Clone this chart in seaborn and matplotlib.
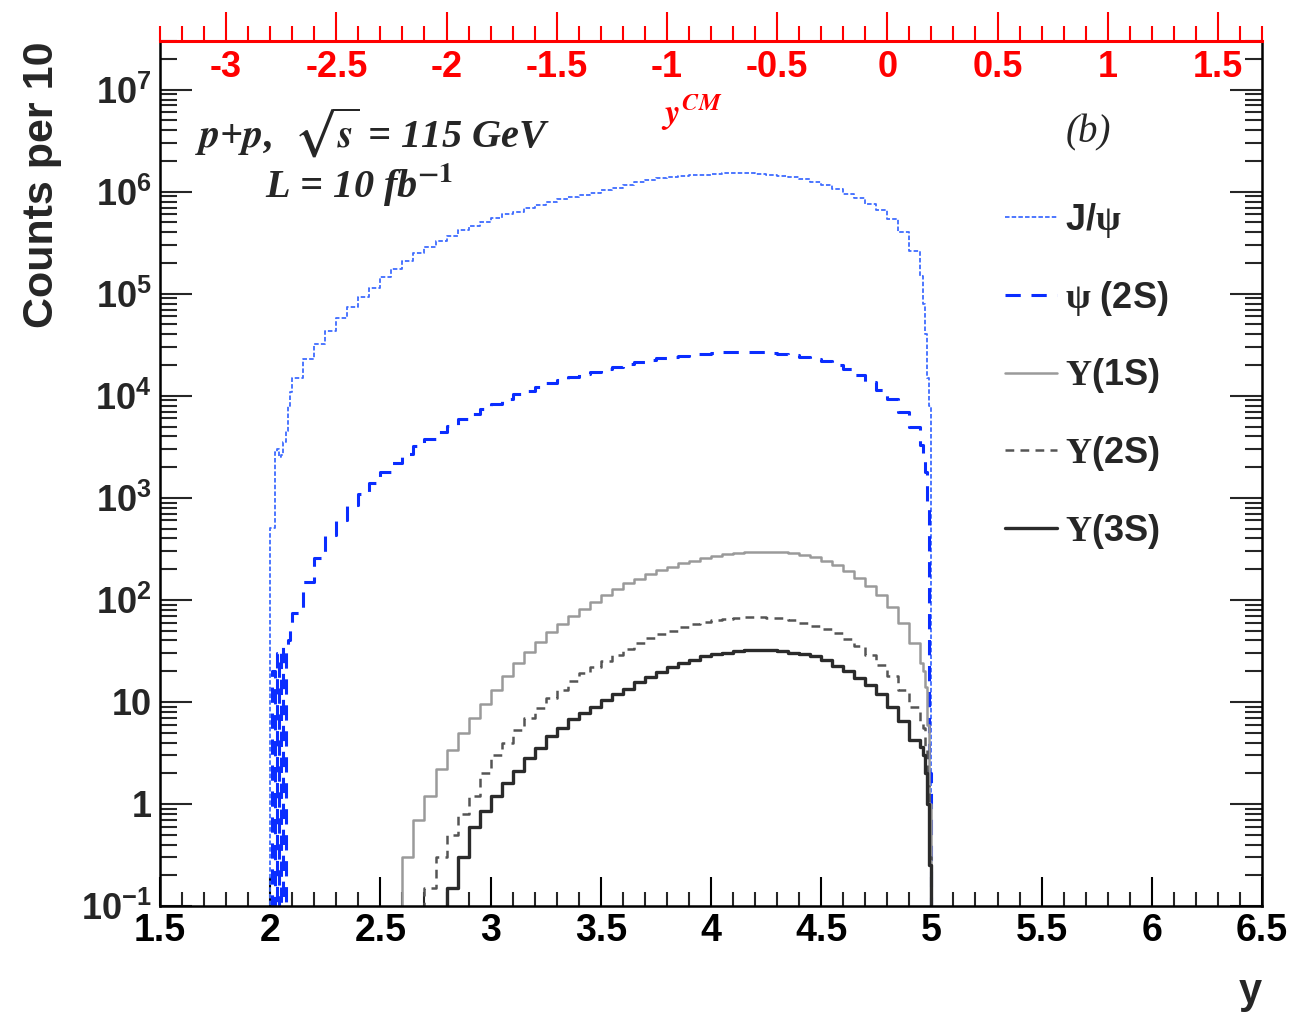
import numpy as np
import pandas as pd
import matplotlib
matplotlib.use("Agg")
import matplotlib.pyplot as plt
from matplotlib.lines import Line2D
from matplotlib.ticker import MultipleLocator, LogLocator, FuncFormatter, NullFormatter
import seaborn as sns

# bin edges in y (fine bins near the acceptance edges at y = 2 and y = 5)
edges = np.round(np.concatenate([
    [1.98, 2.00, 2.01, 2.02, 2.03, 2.04, 2.05, 2.06, 2.07, 2.08, 2.09, 2.10],
    np.arange(2.15, 4.951, 0.05),
    [4.96, 4.97, 4.98, 4.99, 5.00, 5.02],
]), 2)

# counts per bin (0.01 = empty, below the axis)
jpsi = [0.01,
        510, 510, 2800, 3000, 2500, 2600, 3500, 4500, 8000, 11000,
        1.5e4, 2.3e4, 3.2e4, 4.3e4, 5.8e4, 7.5e4, 9.3e4, 1.15e5, 1.45e5, 1.75e5,
        2.1e5, 2.5e5, 2.9e5, 3.3e5, 3.7e5, 4.2e5, 4.6e5, 5.0e5, 5.5e5, 6.0e5,
        6.4e5, 6.9e5, 7.4e5, 7.9e5, 8.4e5, 8.8e5, 9.3e5, 9.8e5, 1.04e6, 1.1e6,
        1.16e6, 1.24e6, 1.3e6, 1.35e6, 1.39e6, 1.42e6, 1.45e6, 1.47e6, 1.49e6, 1.51e6,
        1.53e6, 1.52e6, 1.5e6, 1.47e6, 1.43e6, 1.38e6, 1.32e6, 1.25e6, 1.17e6, 1.07e6,
        9.6e5, 8.6e5, 7.6e5, 6.6e5, 5.4e5, 4.0e5, 2.6e5,
        1.5e5, 8e4, 4e4, 1.5e4, 8e3,
        0.01]
psi2s = [0.01,
         0.01, 20, 0.05, 30, 0.05, 35, 0.08, 36, 40, 55,
         75, 150, 260, 430, 600, 850, 1100, 1400, 1800, 2200,
         2700, 3200, 3800, 4400, 5100, 5900, 6700, 7500, 8400, 9400,
         10300, 11200, 12200, 13300, 14300, 15300, 16300, 17300, 18300, 19300,
         20300, 21500, 22500, 23300, 24000, 24800, 25400, 25900, 26400, 26800,
         27000, 27000, 26800, 26300, 25700, 25000, 24100, 23000, 21700, 20100,
         18200, 16000, 13600, 11300, 9200, 7000, 4900,
         3300, 2600, 1800, 900, 2,
         0.01]
ups1s = [0.01,
         0.01, 0.01, 0.01, 0.01, 0.01, 0.01, 0.01, 0.01, 0.01, 0.01,
         0.01, 0.01, 0.01, 0.01, 0.01, 0.01, 0.01, 0.01, 0.01, 0.01,
         0.3, 0.7, 1.2, 2.2, 3.4, 5, 7, 9.5, 13, 18,
         24, 31, 39, 48, 58, 70, 82, 96, 112, 128,
         145, 160, 178, 195, 212, 228, 243, 258, 270, 280,
         288, 293, 296, 296, 293, 287, 278, 262, 243, 218,
         192, 165, 138, 112, 85, 60, 38,
         24, 20, 14, 6, 1,
         0.01]
ups2s = [0.01,
         0.01, 0.01, 0.01, 0.01, 0.01, 0.01, 0.01, 0.01, 0.01, 0.01,
         0.01, 0.01, 0.01, 0.01, 0.01, 0.01, 0.01, 0.01, 0.01, 0.01,
         0.01, 0.01, 0.15, 0.3, 0.5, 0.8, 1.2, 2.0, 3.0, 4.0,
         5.3, 7, 8.8, 11, 13, 16, 19, 22, 25, 29,
         33, 38, 42, 46, 50, 54, 58, 61, 63, 65,
         67, 68, 68, 67, 66, 63, 60, 56, 52, 47,
         41, 35, 29, 23, 18, 13, 9,
         6.5, 5.5, 3.5, 1.5, 0.3,
         0.01]
ups3s = [0.01,
         0.01, 0.01, 0.01, 0.01, 0.01, 0.01, 0.01, 0.01, 0.01, 0.01,
         0.01, 0.01, 0.01, 0.01, 0.01, 0.01, 0.01, 0.01, 0.01, 0.01,
         0.01, 0.01, 0.01, 0.01, 0.15, 0.3, 0.6, 0.85, 1.2, 1.6,
         2.1, 2.8, 3.5, 4.6, 5.5, 6.8, 7.8, 9, 10.5, 12,
         13.5, 15.5, 17.5, 19.5, 22, 24, 26, 28, 29.5, 30.5,
         31.5, 32, 32, 32, 31.5, 30.5, 29.5, 28, 26, 22.5,
         20, 17, 14.5, 12, 9, 6.5, 4.2,
         3.6, 3.0, 2.0, 1.0, 0.25,
         0.01]

states = ["J/psi", "psi(2S)", "Y(1S)", "Y(2S)", "Y(3S)"]
labels = [r"J/$\mathrm{\psi}$", r"$\mathrm{\psi}$ (2S)",
          r"$\mathrm{\Upsilon}$(1S)", r"$\mathrm{\Upsilon}$(2S)",
          r"$\mathrm{\Upsilon}$(3S)"]
colors = ["#3f6cff", "#0a2dff", "#9a9a9a", "#555555", "#2b2b2b"]
styles = [(0, (2.5, 1.2)), (0, (5, 3.5)), "-", (0, (3.5, 2.5)), "-"]
widths = [1.3, 2.2, 1.8, 1.8, 2.4]

centers = (edges[:-1] + edges[1:]) / 2
df = pd.DataFrame({"y": centers, "J/psi": jpsi, "psi(2S)": psi2s,
                   "Y(1S)": ups1s, "Y(2S)": ups2s, "Y(3S)": ups3s})
long = df.melt(id_vars="y", var_name="state", value_name="counts")

sns.set_theme(style="ticks")
plt.rcParams["font.family"] = ["Liberation Sans", "DejaVu Sans"]
plt.rcParams["font.weight"] = "bold"
# serif greek letters for the legend, bold sans for the tick exponents
plt.rcParams["mathtext.fontset"] = "custom"
plt.rcParams["mathtext.rm"] = "Liberation Serif"
plt.rcParams["mathtext.bf"] = "Liberation Sans:bold"
plt.rcParams["mathtext.it"] = "Liberation Serif:italic"

fig = plt.figure(figsize=(13.09, 10.17), dpi=100)
ax = fig.add_axes([160 / 1309, 111 / 1017, 1102 / 1309, 865 / 1017])

bin_list = [float(b) for b in edges]
for name, c, ls, lw in zip(states, colors, styles, widths):
    sub = long[long.state == name].reset_index(drop=True)
    sns.histplot(data=sub, x="y", weights="counts",
                 bins=bin_list, element="step", fill=False, color=c,
                 linestyle=ls, linewidth=lw, ax=ax)

ax.set_yscale("log")
ax.set_xlim(1.5, 6.5)
ax.set_ylim(0.1, 3e7)

# bottom axis
ax.xaxis.set_major_locator(MultipleLocator(0.5))
ax.xaxis.set_minor_locator(MultipleLocator(0.1))
ax.xaxis.set_major_formatter(FuncFormatter(lambda v, p: f"{v:g}"))
ax.yaxis.set_major_locator(LogLocator(base=10, numticks=20))
ax.yaxis.set_minor_locator(LogLocator(base=10, subs=np.arange(2, 10), numticks=20))
ax.yaxis.set_minor_formatter(NullFormatter())


def yfmt(v, pos):
    e = int(round(np.log10(v)))
    if e == 0:
        return "1"
    if e == 1:
        return "10"
    return r"$\mathbf{10^{%d}}$" % e


ax.yaxis.set_major_formatter(FuncFormatter(yfmt))
ax.tick_params(axis="x", which="major", direction="in", length=21, width=1.5,
               top=True, labelsize=27, pad=5, colors="black")
ax.tick_params(axis="x", which="minor", direction="in", length=10, width=1.5, top=True)
ax.tick_params(axis="y", which="major", direction="in", length=23, width=1.5,
               right=True, labelsize=26, pad=6)
ax.tick_params(axis="y", which="minor", direction="in", length=12, width=1.5, right=True)
for s in ["left", "right", "bottom"]:
    ax.spines[s].set_linewidth(1.8)
    ax.spines[s].set_color("black")
ax.spines["top"].set_visible(False)

ax.set_xlabel("")
ax.set_ylabel("Counts per 10", loc="top", fontsize=31, fontweight="bold")
ax.yaxis.set_label_coords(-0.089, 1.0)
fig.text(1262 / 1309, 1 - 972 / 1017, "y", ha="right", va="top",
         fontsize=30, fontweight="bold")

# top red axis: y in the centre-of-mass frame
ax2 = ax.twiny()
ax2.set_xlim(1.5 - 4.8, 6.5 - 4.8)
ax2.xaxis.set_major_locator(MultipleLocator(0.5))
ax2.xaxis.set_minor_locator(MultipleLocator(0.1))
ax2.xaxis.set_major_formatter(FuncFormatter(lambda v, p: f"{v:g}"))
ax2.set_xlabel("")
for s in ["left", "right", "bottom"]:
    ax2.spines[s].set_visible(False)
ax2.spines["top"].set_color("red")
ax2.spines["top"].set_linewidth(2.2)
ax2.tick_params(axis="x", which="major", direction="out", length=21, width=1.5,
                color="red", labelcolor="red", labelsize=26, pad=-53)
ax2.tick_params(axis="x", which="minor", direction="out", length=11, width=1.5,
                color="red")
ax2.grid(False)
fig.text(692 / 1309, 1 - 113 / 1017, r"$y^{CM}$", color="red", fontsize=25,
         ha="center", va="center", math_fontfamily="stix")

# annotations
fig.text(195 / 1309, 1 - 133 / 1017, r"$p$+$p$,  $\sqrt{s}$ = 115 GeV",
         fontsize=29, family="Liberation Serif", style="italic", weight="bold",
         ha="left", va="center", math_fontfamily="stix")
fig.text(265 / 1309, 1 - 185 / 1017, r"L = 10 fb$^{\mathit{-1}}$",
         fontsize=29, family="Liberation Serif", style="italic", weight="bold",
         ha="left", va="center", math_fontfamily="stix")
fig.text(1088 / 1309, 1 - 133 / 1017, "(b)", fontsize=28,
         family="Liberation Serif", style="italic", weight="normal",
         ha="center", va="center")

handles = [Line2D([], [], color=c, linestyle=ls, linewidth=lw)
           for c, ls, lw in zip(colors, styles, widths)]
leg = ax.legend(handles, labels, loc="upper left",
                bbox_to_anchor=(1005 / 1309, 1 - 201 / 1017),
                bbox_transform=fig.transFigure, frameon=False, fontsize=26,
                handlelength=1.45, handletextpad=0.2, labelspacing=1.07,
                borderpad=0, borderaxespad=0)

fig.savefig("out.png", dpi=100)
